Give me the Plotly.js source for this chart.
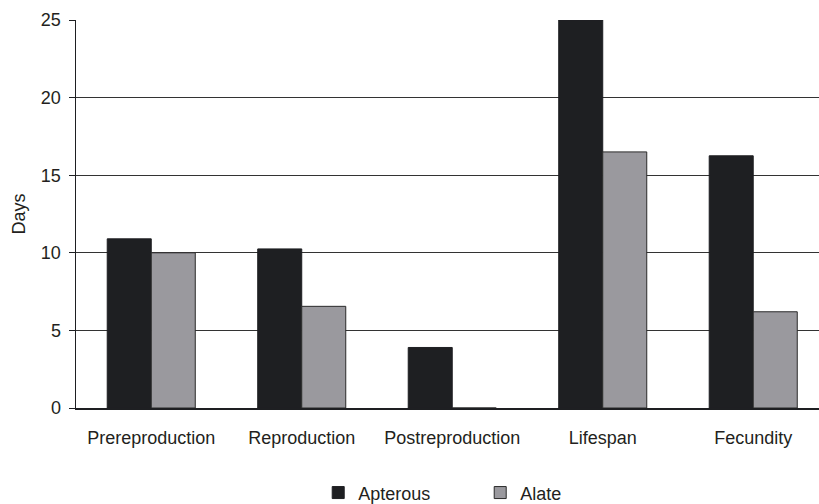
<!DOCTYPE html>
<html>
<head>
<meta charset="utf-8">
<script src="https://cdn.plot.ly/plotly-3.0.1.min.js"></script>
<style>html,body{margin:0;padding:0;background:#fff;}#chart{width:819px;height:504px;}</style>
</head>
<body>
<div id="chart"></div>
<script>
var categories = ["Prereproduction", "Reproduction", "Postreproduction", "Lifespan", "Fecundity"];
var apterous = [10.9, 10.25, 3.9, 25, 16.25];
var alate = [10.0, 6.55, 0, 16.5, 6.2];
var yTicks = [0, 5, 10, 15, 20, 25];

var font = {family: "Liberation Sans, Arial, sans-serif", size: 18, color: "#231f20"};

var traces = [
  {type: "bar", name: "Apterous", x: categories, y: apterous,
   marker: {color: "#1e1f22", line: {color: "#1e1f22", width: 1}}},
  {type: "bar", name: "Alate", x: categories, y: alate,
   marker: {color: "#9a999e", line: {color: "#2a2a2a", width: 1}}}
];

var layout = {
  width: 819, height: 504,
  margin: {l: 76, r: 0, t: 20, b: 96, autoexpand: false},
  paper_bgcolor: "#fff", plot_bgcolor: "#fff",
  font: font,
  barmode: "group",
  bargap: 0.415,
  bargroupgap: 0,
  showlegend: true,
  legend: {orientation: "h", x: 0.326, xanchor: "left", y: -0.171, yanchor: "top",
           entrywidth: 117, entrywidthmode: "pixels", font: font, bgcolor: "rgba(0,0,0,0)"},
  xaxis: {
    type: "category", range: [-0.5, 4.437], showline: true, linecolor: "#1e1f22", linewidth: 1.5,
    ticks: "", showgrid: false, ticklabelstandoff: 13, tickfont: font, fixedrange: true,
    automargin: false
  },
  yaxis: {
    range: [0, 25], tickvals: yTicks, ticktext: yTicks.map(String),
    showline: true, linecolor: "#1e1f22", linewidth: 1.5,
    ticks: "outside", ticklen: 6, tickcolor: "#1e1f22", ticklabelstandoff: 4,
    showgrid: true, gridcolor: "#333", gridwidth: 1, zeroline: false,
    title: {text: "Days", font: {family: "Liberation Sans, Arial, sans-serif", size: 18, color: "#231f20"}, standoff: 10},
    tickfont: font, fixedrange: true, automargin: false
  }
};

Plotly.newPlot("chart", traces, layout, {displayModeBar: false, staticPlot: true});
</script>
</body>
</html>
